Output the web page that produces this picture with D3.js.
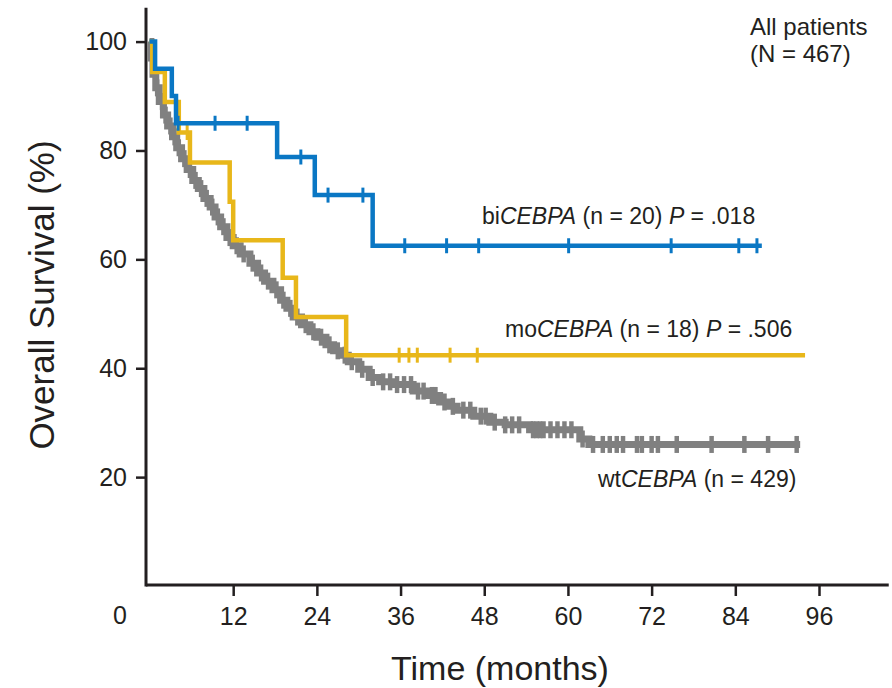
<!DOCTYPE html>
<html lang="en">
<head>
    <meta charset="UTF-8">
    <title>Overall Survival by CEBPA status</title>
    <script src="https://d3js.org/d3.v7.min.js"></script>
    <style>
        body { margin: 0; background: #fff; }
        svg { display: block; font-family: "Liberation Sans", Arial, sans-serif; }
    </style>
</head>
<body>
    <div id="chart"></div>
    <script>
        // tick labels
        const xTicks = [12, 24, 36, 48, 60, 72, 84, 96];
        const yTicks = [20, 40, 60, 80, 100];

        // step curves: [months, survival %]
        const biSteps = [[0, 100], [0.8, 95], [3.2, 90], [3.8, 85], [18.3, 78.8], [23.7, 71.8], [32.0, 62.5]];
        const biEnd = 87.8;
        const biCensor = [4.1, 9.4, 14.0, 21.7, 25.6, 30.6, 36.6, 42.6, 47.2, 60.1, 74.8, 84.5, 87.1];

        const moSteps = [[0, 100], [0.4, 94.4], [2.2, 88.9], [4.2, 83.3], [5.8, 77.8], [11.5, 70.6], [12.0, 63.5],
            [19.1, 56.6], [21.0, 49.4], [28.2, 42.4]];
        const moEnd = 94;
        const moCensor = [5.4, 35.8, 37.2, 38.4, 43.1, 47.0];

        const wtSteps = [[0, 100], [0.2, 97], [0.5, 94], [0.9, 91.5], [1.4, 89], [2.0, 86.5], [2.6, 84.5], [3.3, 82.5],
            [3.9, 80.5], [4.6, 78.5], [5.4, 76.5], [6.2, 74.5], [7.0, 73], [7.8, 71.2], [8.7, 69.6], [9.4, 67.8],
            [10.2, 66], [11.1, 64], [12.0, 62.5], [13.0, 61], [14.4, 59.3], [15.5, 57.5], [16.5, 56], [17.7, 54.4],
            [18.8, 52.5], [19.7, 51], [20.6, 49.4], [21.8, 48], [23.0, 46.7], [24.0, 45.7], [25.3, 44.3], [26.4, 43.2],
            [27.3, 42.4], [28.5, 41.2], [30.0, 39.8], [31.5, 38.3], [33.0, 37.5], [35.0, 37.0], [37.8, 35.8],
            [40.0, 35.0], [41.6, 33.8], [43.0, 33.0], [44.1, 32.3], [46.5, 31.2], [48.8, 30.1], [51.0, 29.6],
            [54.5, 28.7], [61.7, 27.0], [63.0, 26.0]];
        const wtEnd = 93.3;
        const wtCensor = [1.1, 1.8, 2.3, 3.0, 3.6, 4.2, 5.0, 5.8, 6.6, 7.4, 8.2, 9.0, 9.8, 10.6, 11.5, 12.5, 13.5,
            14.8, 16.0, 17.0, 18.2, 19.2, 20.2, 21.2, 22.4, 23.5, 24.6, 25.8, 27.0, 28.0, 29.0, 30.5, 32.0, 33.5,
            34.5, 35.5, 36.5, 37.5, 38.5, 39.3, 40.5, 41.0, 42.3, 43.5, 45.0, 46.0, 47.5, 48.2, 49.5, 51.0, 52.0,
            53.0, 55.0, 55.5, 56.0, 56.5, 57.5, 58.5, 59.5, 60.5, 62.1, 63.6, 65.0, 66.0, 67.0, 67.9, 69.9, 70.6,
            72.0, 72.9, 75.6, 80.6, 85.3, 88.7, 92.8];

        const width = 892, height = 688;
        const svg = d3.select("#chart").append("svg")
            .attr("width", width).attr("height", height);

        const x = d3.scaleLinear().domain([0, 96]).range([149.5, 819]);
        const y = d3.scaleLinear().domain([0, 100]).range([586, 41.6]);
        const ink = "#231f20";

        // axes
        const xAxis = svg.append("g").attr("transform", "translate(0,585)")
            .call(d3.axisBottom(x).tickValues(xTicks).tickSize(11).tickPadding(11));
        const yAxis = svg.append("g").attr("transform", "translate(146,0)")
            .call(d3.axisLeft(y).tickValues(yTicks).tickSize(10).tickPadding(9));
        [xAxis, yAxis].forEach(g => {
            g.select(".domain").remove();
            g.selectAll("line").attr("stroke", ink).attr("stroke-width", 2.5);
            g.selectAll("text").attr("fill", ink).attr("font-size", 25)
                .attr("font-family", "'Liberation Sans', Arial, sans-serif");
        });
        svg.append("line").attr("x1", x(-0.5)).attr("x2", x(106)).attr("y1", 585).attr("y2", 585)
            .attr("stroke", ink).attr("stroke-width", 3);
        svg.append("line").attr("x1", 146).attr("x2", 146).attr("y1", y(106.2)).attr("y2", y(0) + 0.5)
            .attr("stroke", ink).attr("stroke-width", 3);
        svg.append("text").attr("x", 120).attr("y", 624).attr("text-anchor", "middle")
            .attr("font-size", 25).attr("fill", ink).text("0");

        // axis titles
        svg.append("text").attr("x", 500).attr("y", 680).attr("text-anchor", "middle")
            .attr("font-size", 34).attr("fill", ink).text("Time (months)");
        svg.append("text").attr("transform", "translate(54,295) rotate(-90)").attr("text-anchor", "middle")
            .attr("font-size", 35).attr("fill", ink).text("Overall Survival (%)");

        const line = d3.line().x(d => x(d[0])).y(d => y(d[1])).curve(d3.curveStepAfter);
        const survAt = (steps, t) => {
            let s = steps[0][1];
            steps.forEach(d => { if (d[0] <= t) s = d[1]; });
            return s;
        };

        function drawCurve(steps, end, censor, color, lw, th, tw) {
            const pts = steps.concat([[end, steps[steps.length - 1][1]]]);
            svg.append("path").datum(pts).attr("d", line)
                .attr("fill", "none").attr("stroke", color).attr("stroke-width", lw);
            svg.append("g").selectAll("line").data(censor).join("line")
                .attr("x1", d => x(d)).attr("x2", d => x(d))
                .attr("y1", d => y(survAt(steps, d)) - th / 2)
                .attr("y2", d => y(survAt(steps, d)) + th / 2)
                .attr("stroke", color).attr("stroke-width", tw);
        }

        drawCurve(wtSteps, wtEnd, wtCensor, "#808080", 7, 17, 4.5);
        drawCurve(moSteps, moEnd, moCensor, "#e8b71a", 4.5, 15, 3);
        drawCurve(biSteps, biEnd, biCensor, "#0a77c4", 4.5, 15, 3);

        // labels
        function label(xp, yp, fs, parts) {
            const t = svg.append("text").attr("x", xp).attr("y", yp).attr("font-size", fs).attr("fill", ink);
            parts.forEach(p => t.append("tspan").attr("font-style", p[1] ? "italic" : "normal").text(p[0]));
        }
        label(482, 224, 23, [["bi", 0], ["CEBPA", 1], [" (n = 20) ", 0], ["P", 1], [" = .018", 0]]);
        label(505, 337, 23, [["mo", 0], ["CEBPA", 1], [" (n = 18) ", 0], ["P", 1], [" = .506", 0]]);
        label(598, 487, 23, [["wt", 0], ["CEBPA", 1], [" (n = 429)", 0]]);
        label(750, 35, 24, [["All patients", 0]]);
        label(750, 62, 24, [["(N = 467)", 0]]);
    </script>
</body>
</html>
